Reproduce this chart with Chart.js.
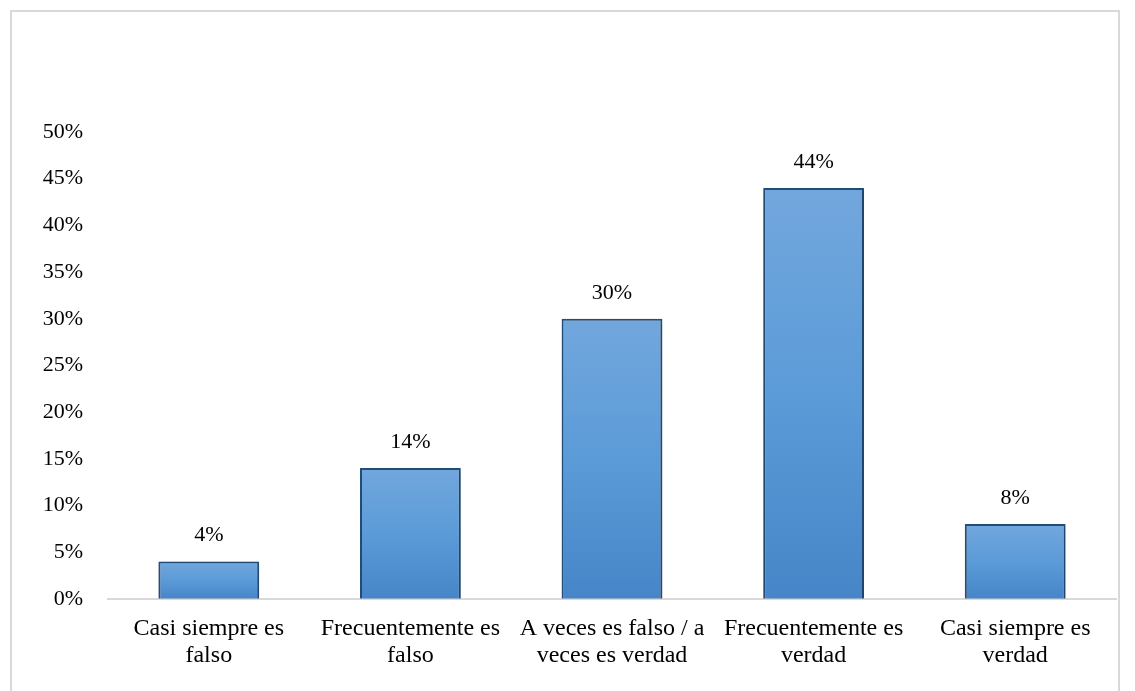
<!DOCTYPE html>
<html>
<head>
<meta charset="utf-8">
<script src="https://cdn.jsdelivr.net/npm/chart.js@4"></script>
<style>
  html, body { margin: 0; padding: 0; background: #fff; }
  #wrap { position: relative; width: 1135px; height: 691px; }
  #frame { position: absolute; left: 10px; top: 10px; width: 1110px; height: 700px; border: 2px solid #d9d9d9; box-sizing: border-box; }
  canvas { position: absolute; left: 0; top: 0; }
</style>
</head>
<body>
<div id="wrap">
  <div id="frame"></div>
  <canvas id="myChart" width="1135" height="691"></canvas>
</div>
<script>
// categories (two lines each)
const categories = [
  ["Casi siempre es", "falso"],
  ["Frecuentemente es", "falso"],
  ["A veces es falso / a", "veces es verdad"],
  ["Frecuentemente es", "verdad"],
  ["Casi siempre es", "verdad"]
];
const percentages = [4, 14, 30, 44, 8]; // % of answers
const yTicks = [0, 5, 10, 15, 20, 25, 30, 35, 40, 45, 50];

const FONT = "'Liberation Serif', 'Times New Roman', serif";

// light on top, darker at the bottom, per bar
function barGradient(context) {
  const chart = context.chart;
  const y = chart.scales.y;
  if (!y || context.raw === undefined) return "#5b9bd5";
  const top = y.getPixelForValue(context.raw);
  const bottom = y.getPixelForValue(0);
  if (!isFinite(top) || !isFinite(bottom) || top === bottom) return "#5b9bd5";
  const g = chart.ctx.createLinearGradient(0, top, 0, bottom);
  g.addColorStop(0, "#72a7dd");
  g.addColorStop(0.5, "#5b9bd8");
  g.addColorStop(1, "#4686c8");
  return g;
}

// writes the % above each bar
const valueLabels = {
  id: "valueLabels",
  afterDatasetsDraw(chart) {
    const ctx = chart.ctx;
    const meta = chart.getDatasetMeta(0);
    ctx.save();
    ctx.font = "22px " + FONT;
    ctx.fillStyle = "#000";
    ctx.textAlign = "center";
    ctx.textBaseline = "middle";
    meta.data.forEach((bar, i) => {
      ctx.fillText(percentages[i] + "%", bar.x, bar.y - 26);
    });
    ctx.restore();
  }
};

// soft shadow behind bars
const barShadow = {
  id: "barShadow",
  beforeDatasetsDraw(chart) {
    chart.ctx.save();
    chart.ctx.shadowColor = "rgba(0,0,0,0.25)";
    chart.ctx.shadowBlur = 5;
    chart.ctx.shadowOffsetX = 1;
    chart.ctx.shadowOffsetY = 1;
  },
  afterDatasetsDraw(chart) {
    chart.ctx.restore();
  }
};

new Chart(document.getElementById("myChart"), {
  type: "bar",
  data: {
    labels: categories,
    datasets: [{
      data: percentages,
      backgroundColor: barGradient,
      borderColor: "#24507c",
      borderWidth: 2,
      categoryPercentage: 1,
      barPercentage: 0.5
    }]
  },
  options: {
    responsive: false,
    animation: false,
    layout: { padding: { left: 20, right: 19, top: 132, bottom: 5 } },
    plugins: { legend: { display: false }, tooltip: { enabled: false } },
    scales: {
      x: {
        grid: { display: false, drawTicks: false },
        border: { display: true, color: "#d9d9d9", width: 2 },
        ticks: {
          color: "#000",
          padding: 16,
          maxRotation: 0,
          autoSkip: false,
          font: { family: FONT, size: 24, lineHeight: 1.15 }
        }
      },
      y: {
        min: 0,
        max: 50,
        afterFit(scale) { scale.width = 88; },
        afterBuildTicks(scale) { scale.ticks = yTicks.map(v => ({ value: v })); },
        grid: { display: false, drawTicks: false },
        border: { display: false },
        ticks: {
          color: "#000",
          padding: 25,
          font: { family: FONT, size: 22 },
          callback: (v) => v + "%"
        }
      }
    }
  },
  plugins: [barShadow, valueLabels]
});
</script>
</body>
</html>
